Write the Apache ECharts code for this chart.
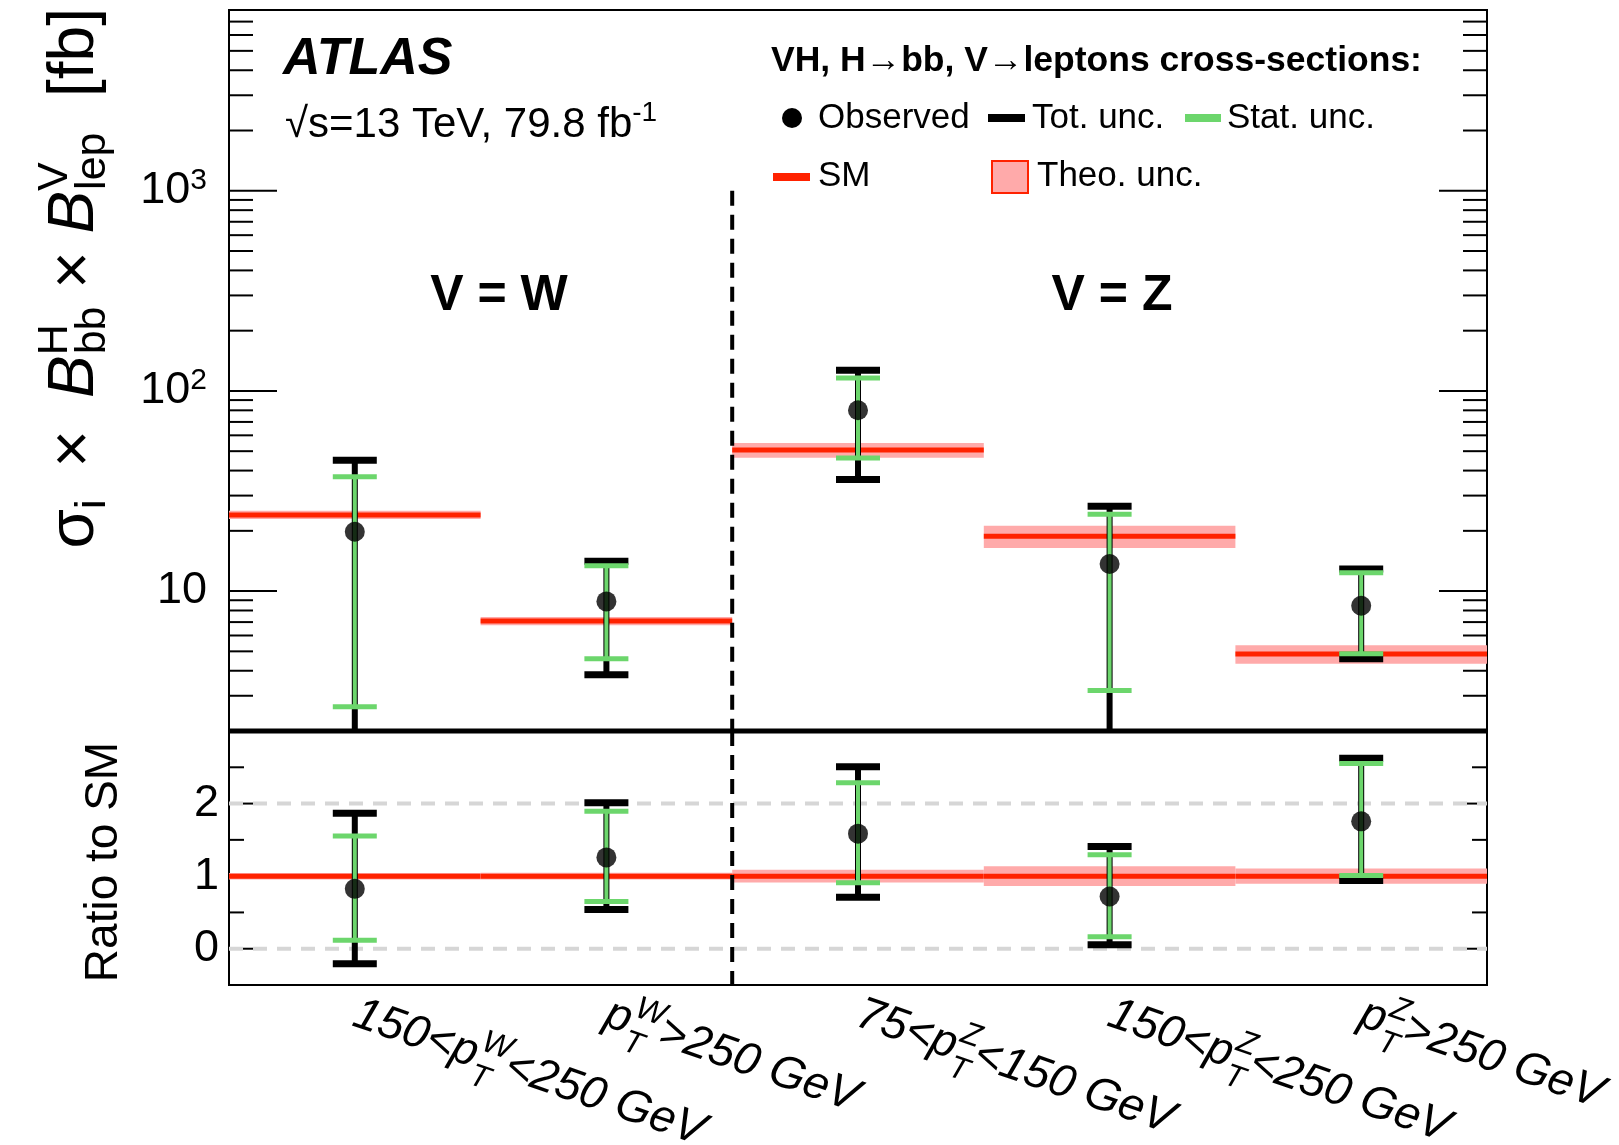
<!DOCTYPE html>
<html>
<head>
<meta charset="utf-8">
<script src="https://cdn.jsdelivr.net/npm/echarts@6/dist/echarts.min.js"></script>
<style>
html, body { margin: 0; padding: 0; background: #fff; }
#main { width: 1619px; height: 1145px; }
</style>
</head>
<body>
<div id="main"></div>
<script>
// categories (p_T^X is turned into rich text below)
var categories = ['150<p_T^W<250 GeV', 'p_T^W>250 GeV', '75<p_T^Z<150 GeV', '150<p_T^Z<250 GeV', 'p_T^Z>250 GeV'];

// upper panel, cross-sections in fb
var smXs    = [24.0, 7.08, 50.7, 18.8, 4.85];
var smLo    = [22.9, 6.75, 46.4, 16.4, 4.34];
var smHi    = [25.2, 7.42, 54.9, 21.2, 5.37];
var obsXs   = [19.8, 8.88, 80.1, 13.65, 8.45];
var totLo   = [0.5, 3.82, 36.1, 0.5, 4.59];   // 0.5 = below the plotted range
var totHi   = [45.0, 14.1, 127, 26.5, 12.9];
var statLo  = [2.64, 4.59, 46.2, 3.19, 4.86];
var statHi  = [37.3, 13.4, 116, 24.2, 12.36];

// lower panel, ratio to SM
var ratioObs    = [0.825, 1.258, 1.585, 0.719, 1.755];
var ratioTotLo  = [-0.207, 0.539, 0.71, 0.055, 0.94];
var ratioTotHi  = [1.866, 2.01, 2.507, 1.41, 2.626];
var ratioStatLo = [0.116, 0.65, 0.908, 0.166, 1.009];
var ratioStatHi = [1.553, 1.894, 2.286, 1.295, 2.553];
var ratioBandLo = [0.955, 0.953, 0.912, 0.864, 0.895];
var ratioBandHi = [1.045, 1.047, 1.088, 1.136, 1.105];

// axis ticks
var logMajor = [10, 100, 1000];
var logMinor = [];
[1, 10, 100, 1000].forEach(function (d) {
    for (var k = 2; k <= 9; k++) {
        if (k * d >= 2 && k * d <= 8000) logMinor.push(k * d);
    }
});
var ratioMajor = [0, 1, 2];
var ratioMinor = [0.5, 1.5, 2.5];
var ratioRef = [0, 2];

var FONT = '"Liberation Sans", Arial, Helvetica, sans-serif';
var RED = '#ff2200', PINK = '#ffaaaa', GREEN = '#6cd66c';

var chart = echarts.init(document.getElementById('main'));

function tickRender(params, api) {
    var y = api.coord([0, api.value(1)])[1];
    var len = api.value(2);
    var cs = params.coordSys;
    var st = { stroke: '#000', lineWidth: 2 };
    return { type: 'group', children: [
        { type: 'line', shape: { x1: cs.x, y1: y, x2: cs.x + len, y2: y }, style: st },
        { type: 'line', shape: { x1: cs.x + cs.width - len, y1: y, x2: cs.x + cs.width, y2: y }, style: st }
    ] };
}

function refRender(params, api) {
    var y = api.coord([0, api.value(1)])[1];
    var cs = params.coordSys;
    return { type: 'line', shape: { x1: cs.x, y1: y, x2: cs.x + cs.width, y2: y },
        style: { stroke: '#d6d6d6', lineWidth: 4, lineDash: [14, 10] } };
}

function smRender(params, api) {
    var i = api.value(0);
    var c = api.coord([i, api.value(1)]);
    var lo = api.coord([i, api.value(2)]);
    var hi = api.coord([i, api.value(3)]);
    var w = api.size([1, 0], [i, api.value(1)])[0];
    return { type: 'group', children: [
        { type: 'rect', shape: { x: c[0] - w / 2, y: hi[1], width: w, height: lo[1] - hi[1] }, style: { fill: PINK } },
        { type: 'rect', shape: { x: c[0] - w / 2, y: c[1] - 2.5, width: w, height: 5 }, style: { fill: RED } }
    ] };
}

function errRender(color, lw, capH) {
    return function (params, api) {
        var i = api.value(0);
        var p1 = api.coord([i, api.value(1)]);
        var p2 = api.coord([i, api.value(2)]);
        var half = 22;
        return { type: 'group', children: [
            { type: 'rect', shape: { x: p1[0] - lw / 2, y: p2[1], width: lw, height: p1[1] - p2[1] }, style: { fill: color } },
            { type: 'rect', shape: { x: p1[0] - half, y: p2[1] - capH / 2, width: 2 * half, height: capH }, style: { fill: color } },
            { type: 'rect', shape: { x: p1[0] - half, y: p1[1] - capH / 2, width: 2 * half, height: capH }, style: { fill: color } }
        ] };
    };
}

function dashRender(params, api) {
    var i = api.value(0);
    var a = api.coord([i, api.value(1)]);
    var b = api.coord([i, api.value(2)]);
    var x = a[0] + api.size([1, 0], [i, api.value(1)])[0] / 2;
    return { type: 'line', shape: { x1: x, y1: a[1], x2: x, y2: b[1] },
        style: { stroke: '#000', lineWidth: 4, lineDash: [15, 9] } };
}

function idx(arrs) {
    return categories.map(function (c, i) {
        return [i].concat(arrs.map(function (a) { return a[i]; }));
    });
}

function labelRich(s) {
    var m = s.match(/^(.*)p_T\^(\w)(.*)$/);
    return (m[1] ? '{t|' + m[1] + '}' : '') + '{t|p}{sub|T}{sup|' + m[2] + '}{t|' + m[3] + '}';
}

var richX = {
    t:   { fontFamily: FONT, fontStyle: 'italic', fontSize: 46, lineHeight: 52, align: 'left', color: '#000' },
    sup: { fontFamily: FONT, fontStyle: 'italic', fontSize: 32, height: 22, lineHeight: 22, verticalAlign: 'top', align: 'left', color: '#000' },
    sub: { fontFamily: FONT, fontStyle: 'italic', fontSize: 32, height: 10, lineHeight: 10, verticalAlign: 'bottom', align: 'left', width: 1, color: '#000' }
};

var option = {
    animation: false,
    backgroundColor: '#fff',
    textStyle: { fontFamily: FONT },
    grid: [
        { left: 229, top: 10, width: 1258, height: 721, show: true, borderColor: '#000', borderWidth: 2, outerBoundsMode: 'none' },
        { left: 229, top: 731, width: 1258, height: 254, show: true, borderColor: '#000', borderWidth: 2, outerBoundsMode: 'none' }
    ],
    xAxis: [
        { type: 'category', gridIndex: 0, data: categories, boundaryGap: true,
          axisLine: { show: false }, axisTick: { show: false }, axisLabel: { show: false }, splitLine: { show: false } },
        { type: 'category', gridIndex: 1, data: categories, boundaryGap: true,
          axisLine: { show: false }, axisTick: { show: false }, splitLine: { show: false },
          axisLabel: { interval: 0, rotate: -19, margin: 28, fontSize: 46, fontStyle: 'italic',
              fontFamily: FONT, color: '#000', formatter: labelRich, rich: richX } }
    ],
    yAxis: [
        { type: 'log', gridIndex: 0, logBase: 10, min: 2, max: 8000,
          axisLine: { show: false }, axisTick: { show: false }, splitLine: { show: false },
          axisLabel: { margin: 22, color: '#000',
              formatter: function (v) {
                  var e = Math.round(Math.log10(v));
                  if (Math.abs(Math.pow(10, e) - v) > 1e-6 * v) return '';
                  return e === 1 ? '{n|10}' : '{n|10}{sup|' + e + '}';
              },
              rich: {
                  n: { fontFamily: FONT, fontSize: 45, lineHeight: 50, color: '#000' },
                  sup: { fontFamily: FONT, fontSize: 30, height: 30, lineHeight: 30, verticalAlign: 'top', color: '#000' }
              } } },
        { type: 'value', gridIndex: 1, min: -0.5, max: 3, interval: 0.5,
          axisLine: { show: false }, axisTick: { show: false }, splitLine: { show: false },
          axisLabel: { margin: 10, fontSize: 45, fontFamily: FONT, color: '#000',
              formatter: function (v) { return (v === 0 || v === 1 || v === 2) ? String(v) : ''; } } }
    ],
    series: [
        // ticks upper
        { type: 'custom', xAxisIndex: 0, yAxisIndex: 0, z: 2, silent: true, renderItem: tickRender,
          encode: { x: 0, y: 1 },
          data: logMajor.map(function (v) { return [0, v, 48]; }).concat(logMinor.map(function (v) { return [0, v, 24]; })) },
        // ticks lower
        { type: 'custom', xAxisIndex: 1, yAxisIndex: 1, z: 2, silent: true, renderItem: tickRender,
          encode: { x: 0, y: 1 },
          data: ratioMajor.map(function (v) { return [0, v, 29]; }).concat(ratioMinor.map(function (v) { return [0, v, 15]; })) },
        // grey reference lines
        { type: 'custom', xAxisIndex: 1, yAxisIndex: 1, z: 3, silent: true, renderItem: refRender,
          encode: { x: 0, y: 1 }, data: ratioRef.map(function (v) { return [0, v]; }) },
        // SM
        { type: 'custom', name: 'SM', xAxisIndex: 0, yAxisIndex: 0, z: 4, clip: true, renderItem: smRender,
          encode: { x: 0, y: 1 }, data: idx([smXs, smLo, smHi]) },
        { type: 'custom', name: 'SM', xAxisIndex: 1, yAxisIndex: 1, z: 4, clip: true, renderItem: smRender,
          encode: { x: 0, y: 1 }, data: idx([categories.map(function () { return 1; }), ratioBandLo, ratioBandHi]) },
        // W / Z separator
        { type: 'custom', xAxisIndex: 0, yAxisIndex: 0, z: 5, silent: true, renderItem: dashRender,
          encode: { x: 0, y: 1 }, data: [[1, 1000, 2]] },
        { type: 'custom', xAxisIndex: 1, yAxisIndex: 1, z: 5, silent: true, renderItem: dashRender,
          encode: { x: 0, y: 1 }, data: [[1, 3, -0.5]] },
        // total uncertainties
        { type: 'custom', name: 'Tot. unc.', xAxisIndex: 0, yAxisIndex: 0, z: 6, clip: true,
          renderItem: errRender('#000', 6, 7), encode: { x: 0, y: 1 }, data: idx([totLo, totHi]) },
        { type: 'custom', name: 'Tot. unc.', xAxisIndex: 1, yAxisIndex: 1, z: 6, clip: true,
          renderItem: errRender('#000', 6, 7), encode: { x: 0, y: 1 }, data: idx([ratioTotLo, ratioTotHi]) },
        // stat uncertainties
        { type: 'custom', name: 'Stat. unc.', xAxisIndex: 0, yAxisIndex: 0, z: 7, clip: true,
          renderItem: errRender(GREEN, 4, 5), encode: { x: 0, y: 1 }, data: idx([statLo, statHi]) },
        { type: 'custom', name: 'Stat. unc.', xAxisIndex: 1, yAxisIndex: 1, z: 7, clip: true,
          renderItem: errRender(GREEN, 4, 5), encode: { x: 0, y: 1 }, data: idx([ratioStatLo, ratioStatHi]) },
        // observed
        { type: 'scatter', name: 'Observed', xAxisIndex: 0, yAxisIndex: 0, z: 8, symbol: 'circle', symbolSize: 20,
          itemStyle: { color: '#000' }, data: obsXs.map(function (v, i) { return [i, v]; }) },
        { type: 'scatter', name: 'Observed', xAxisIndex: 1, yAxisIndex: 1, z: 8, symbol: 'circle', symbolSize: 20,
          itemStyle: { color: '#000' }, data: ratioObs.map(function (v, i) { return [i, v]; }) }
    ],
    graphic: [
        { type: 'line', z: 20, shape: { x1: 228, y1: 731, x2: 1488, y2: 731 }, style: { stroke: '#000', lineWidth: 5 } },
        { type: 'text', x: 283, y: 60, style: { text: 'ATLAS', fontFamily: FONT, fontSize: 52, fontWeight: 'bold',
            fontStyle: 'italic', fill: '#000', verticalAlign: 'middle' } },
        { type: 'text', x: 285, y: 125, style: { text: '{t|√s=13 TeV, 79.8 fb}{sup|-1}', fill: '#000', verticalAlign: 'middle',
            rich: { t: { fontFamily: FONT, fontSize: 42, lineHeight: 48, align: 'left', fill: '#000' },
                    sup: { fontFamily: FONT, fontSize: 28, height: 24, lineHeight: 24, verticalAlign: 'top', align: 'left', fill: '#000' } } } },
        { type: 'text', x: 771, y: 61, style: { text: 'VH, H→bb, V→leptons cross-sections:', fontFamily: FONT,
            fontSize: 35.5, fontWeight: 'bold', fill: '#000', verticalAlign: 'middle' } },
        { type: 'circle', shape: { cx: 792, cy: 118, r: 10 }, style: { fill: '#000' } },
        { type: 'text', x: 818, y: 118, style: { text: 'Observed', fontFamily: FONT, fontSize: 35, fill: '#000', verticalAlign: 'middle' } },
        { type: 'rect', shape: { x: 988, y: 114, width: 37, height: 8 }, style: { fill: '#000' } },
        { type: 'text', x: 1032, y: 118, style: { text: 'Tot. unc.', fontFamily: FONT, fontSize: 35, fill: '#000', verticalAlign: 'middle' } },
        { type: 'rect', shape: { x: 1185, y: 114, width: 36, height: 8 }, style: { fill: GREEN } },
        { type: 'text', x: 1227, y: 118, style: { text: 'Stat. unc.', fontFamily: FONT, fontSize: 35, fill: '#000', verticalAlign: 'middle' } },
        { type: 'rect', shape: { x: 773, y: 173, width: 37, height: 8 }, style: { fill: RED } },
        { type: 'text', x: 818, y: 176, style: { text: 'SM', fontFamily: FONT, fontSize: 35, fill: '#000', verticalAlign: 'middle' } },
        { type: 'rect', shape: { x: 992, y: 161, width: 36, height: 32 }, style: { fill: PINK, stroke: RED, lineWidth: 2 } },
        { type: 'text', x: 1037, y: 176, style: { text: 'Theo. unc.', fontFamily: FONT, fontSize: 35, fill: '#000', verticalAlign: 'middle' } },
        { type: 'text', x: 499, y: 296, style: { text: 'V = W', fontFamily: FONT, fontSize: 50, fontWeight: 'bold',
            fill: '#000', align: 'center', verticalAlign: 'middle' } },
        { type: 'text', x: 1112, y: 296, style: { text: 'V = Z', fontFamily: FONT, fontSize: 50, fontWeight: 'bold',
            fill: '#000', align: 'center', verticalAlign: 'middle' } },
        { type: 'text', x: 75, y: 8, rotation: Math.PI / 2, style: {
            text: '{m|σ}{sub|i}{m|\u2002×\u2002}{b|B}{supn|H}{sub|bb}{m| × }{b|B}{supn|V}{sub|lep}{m|  [fb]}',
            fill: '#000', align: 'right', verticalAlign: 'middle',
            rich: {
                m: { fontFamily: FONT, fontSize: 64, lineHeight: 74, align: 'left', fill: '#000' },
                b: { fontFamily: FONT, fontSize: 64, lineHeight: 74, fontStyle: 'italic', align: 'left', fill: '#000' },
                sub: { fontFamily: FONT, fontSize: 43, height: 38, lineHeight: 38, verticalAlign: 'bottom', align: 'left', fill: '#000' },
                supn: { fontFamily: FONT, fontSize: 43, height: 34, lineHeight: 34, verticalAlign: 'top', align: 'left', width: 1, fill: '#000' }
            } } },
        { type: 'text', x: 104, y: 862, rotation: Math.PI / 2, style: { text: 'Ratio to SM', fontFamily: FONT,
            fontSize: 46, fill: '#000', align: 'center', verticalAlign: 'middle' } }
    ]
};

chart.setOption(option);
</script>
</body>
</html>
